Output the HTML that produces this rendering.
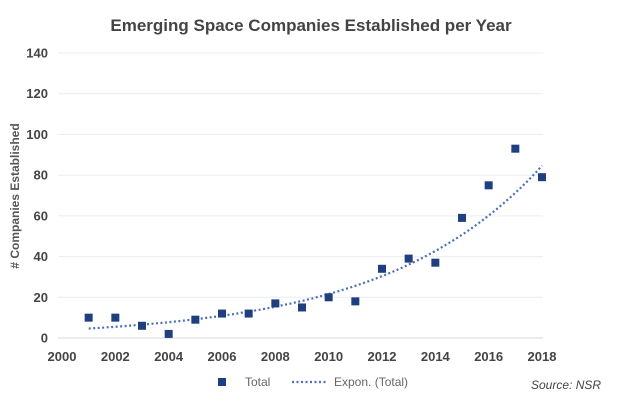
<!DOCTYPE html>
<html><head><meta charset="utf-8"><style>
body{margin:0;background:#fff;}
svg{display:block;font-family:"Liberation Sans",sans-serif;}
</style></head><body>
<svg id="c" width="623" height="402">
<text x="311" y="31" text-anchor="middle" font-size="17" font-weight="bold" fill="#444">Emerging Space Companies Established per Year</text>
<text transform="translate(19,196) rotate(-90)" text-anchor="middle" font-size="12" font-weight="bold" fill="#555"># Companies Established</text>
<g id="grid"></g><g id="ticks"></g><g id="trend"></g><g id="pts"></g>
<g>
<rect x="218" y="378" width="8" height="8" fill="#1f3f7f"/>
<text x="245" y="386" font-size="12" fill="#666">Total</text>
<line x1="292" y1="382" x2="328" y2="382" stroke="#4a6fb5" stroke-width="2.2" stroke-dasharray="2,2.5"/>
<text x="334" y="386" font-size="12" fill="#666">Expon. (Total)</text>
</g>
<text x="531" y="389" font-size="12" font-style="italic" fill="#444">Source: NSR</text>
</svg>
<script>
const years=[2001,2002,2003,2004,2005,2006,2007,2008,2009,2010,2011,2012,2013,2014,2015,2016,2017,2018];
const totals=[10,10,6,2,9,12,12,17,15,20,18,34,39,37,59,75,93,79];
const yTicks=[0,20,40,60,80,100,120,140];
const xTicks=[2000,2002,2004,2006,2008,2010,2012,2014,2016,2018];
const NS="http://www.w3.org/2000/svg";
const X=t=>62+(t-2000)*(480/18);
const Y=v=>338-v*(285/140);
function mk(tag,attrs,parent,txt){const e=document.createElementNS(NS,tag);for(const k in attrs)e.setAttribute(k,attrs[k]);if(txt!=null)e.textContent=txt;document.getElementById(parent).appendChild(e);return e;}
yTicks.forEach(v=>{
 const l=mk('line',{x1:58,x2:543,y1:Y(v),y2:Y(v),stroke:v===0?'#d9d9d9':'#ececec','stroke-width':1},'grid');
 
 
 const t=mk('text',{x:48,y:Y(v)+4.5,'text-anchor':'end','font-size':13,'font-weight':'bold',fill:'#444'},'ticks',v);
 
 
});
xTicks.forEach(v=>{
 const t=mk('text',{x:X(v),y:361,'text-anchor':'middle','font-size':13,'font-weight':'bold',fill:'#444'},'ticks',v);
 
 
});
// exponential least-squares fit on ln(y)
let n=years.length,sx=0,sy=0,sxx=0,sxy=0;
years.forEach((t,i)=>{const x=t-2000,y=Math.log(totals[i]);sx+=x;sy+=y;sxx+=x*x;sxy+=x*y;});
const b=(n*sxy-sx*sy)/(n*sxx-sx*sx),a=(sy-b*sx)/n;
let d='';
for(let t=years[0];t<=years[n-1]+1e-9;t+=0.1){d+=(d?'L':'M')+X(t).toFixed(1)+','+Y(Math.exp(a+b*(t-2000))).toFixed(1);}
const p=mk('path',{d:d,fill:'none',stroke:'#4a6fb5','stroke-width':2.2,'stroke-dasharray':'2,2.5'},'trend');


years.forEach((t,i)=>{
 const r=mk('rect',{x:X(t)-4,y:Y(totals[i])-4,width:8,height:8,fill:'#1f3f7f'},'pts');
 
 
});
</script>
</body></html>
